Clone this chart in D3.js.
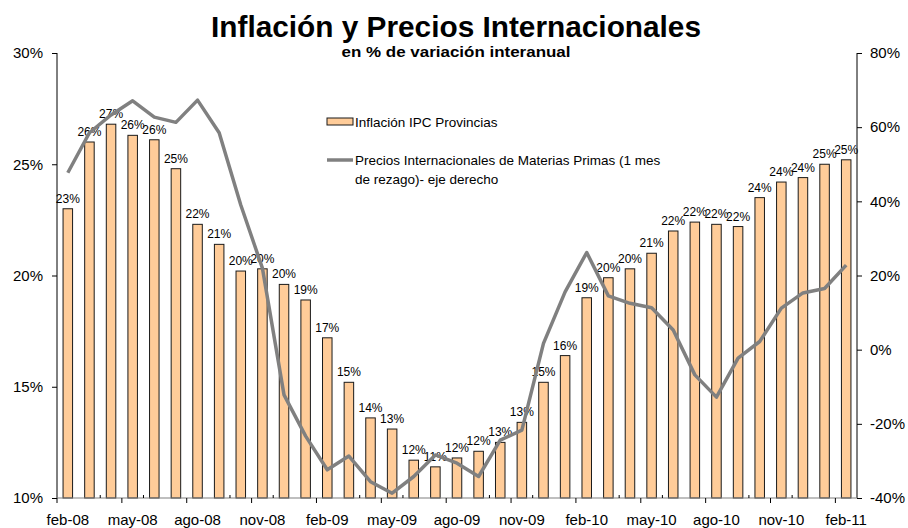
<!DOCTYPE html>
<html>
<head>
<meta charset="utf-8">
<script src="https://cdn.jsdelivr.net/npm/d3@7/dist/d3.min.js"></script>
<style>
  body { margin: 0; background: #fff; }
  svg { display: block; font-family: "Liberation Sans", Arial, sans-serif; }
</style>
</head>
<body>
<svg width="908" height="528"></svg>
<script>
/* global d3 */

const months = [
  'feb-08', 'mar-08', 'abr-08', 'may-08', 'jun-08', 'jul-08', 'ago-08', 'sep-08', 'oct-08', 'nov-08', 'dic-08', 'ene-09',
  'feb-09', 'mar-09', 'abr-09', 'may-09', 'jun-09', 'jul-09', 'ago-09', 'sep-09', 'oct-09', 'nov-09', 'dic-09', 'ene-10',
  'feb-10', 'mar-10', 'abr-10', 'may-10', 'jun-10', 'jul-10', 'ago-10', 'sep-10', 'oct-10', 'nov-10', 'dic-10', 'ene-11',
  'feb-11'
];

// Inflación IPC Provincias (eje izquierdo, %)
const inflacion = [
  23.0, 26.0, 26.8, 26.3, 26.1, 24.8, 22.3, 21.4, 20.2, 20.3, 19.6, 18.9,
  17.2, 15.2, 13.6, 13.1, 11.7, 11.4, 11.8, 12.1, 12.5, 13.4, 15.2, 16.4,
  19.0, 19.9, 20.3, 21.0, 22.0, 22.4, 22.3, 22.2, 23.5, 24.2, 24.4, 25.0,
  25.2
];

// Precios internacionales de materias primas (eje derecho, %)
const precios = [
  47.7, 58.5, 63.3, 67.1, 62.7, 61.3, 67.3, 58.5, 39.0, 22.0, -12.2, -23.3,
  -32.4, -28.7, -35.6, -38.7, -34.2, -28.4, -30.6, -34.2, -24.4, -21.7, 1.7, 15.6,
  26.2, 14.5, 12.5, 11.3, 5.3, -6.8, -12.8, -2.3, 2.2, 11.2, 15.3, 16.5,
  22.8
];

const leftTicks = [10, 15, 20, 25, 30];
const rightTicks = [-40, -20, 0, 20, 40, 60, 80];

const margin = { top: 53, right: 51, bottom: 30, left: 57 };
const width = 908 - margin.left - margin.right;
const height = 528 - margin.top - margin.bottom;

const svg = d3.select('svg');
const g = svg.append('g')
  .attr('transform', `translate(${margin.left},${margin.top})`);

const x = d3.scaleBand()
  .domain(months)
  .range([0, width])
  .paddingInner(0.56)
  .paddingOuter(0.28);

const yL = d3.scaleLinear().domain([10, 30]).range([height, 0]);
const yR = d3.scaleLinear().domain([-40, 80]).range([height, 0]);
const step = x.step();

// bars
g.append('g').selectAll('rect')
  .data(inflacion)
  .join('rect')
    .attr('x', (d, i) => x(months[i]))
    .attr('y', d => yL(d))
    .attr('width', x.bandwidth())
    .attr('height', d => height - yL(d))
    .attr('fill', '#ffcc99')
    .attr('stroke', '#1a1a1a')
    .attr('stroke-width', 1);

// bar labels
g.append('g').selectAll('text')
  .data(inflacion)
  .join('text')
    .attr('x', (d, i) => x(months[i]) + x.bandwidth() / 2)
    .attr('y', d => yL(d) - 6)
    .attr('text-anchor', 'middle')
    .attr('font-size', 12)
    .attr('fill', '#000')
    .text(d => `${Math.round(d)}%`);

// line
const line = d3.line()
  .x((d, i) => x(months[i]) + x.bandwidth() / 2)
  .y(d => yR(d));

g.append('path')
  .datum(precios)
  .attr('d', line)
  .attr('fill', 'none')
  .attr('stroke', '#808080')
  .attr('stroke-width', 3.5)
  .attr('stroke-linejoin', 'round');

// left axis
const axL = g.append('g')
  .call(d3.axisLeft(yL).tickValues(leftTicks).tickSize(5).tickPadding(9).tickFormat(d => `${d}%`));
axL.selectAll('text').attr('font-size', 15).attr('font-family', null).attr('fill', '#000');
axL.select('.domain').attr('d', `M0,${height}V0`).attr('stroke', '#000');

// right axis
const axR = g.append('g')
  .attr('transform', `translate(${width},0)`)
  .call(d3.axisRight(yR).tickValues(rightTicks).tickSize(5).tickPadding(8).tickFormat(d => `${d}%`));
axR.selectAll('text').attr('font-size', 15).attr('font-family', null).attr('fill', '#000');
axR.select('.domain').attr('d', `M0,${height}V0`).attr('stroke', '#000');

// x axis
const xAxis = g.append('g').attr('transform', `translate(0,${height})`);
xAxis.append('line')
  .attr('x1', 0).attr('x2', width)
  .attr('stroke', '#808080').attr('stroke-width', 1.2);

const majors = d3.range(0, months.length, 3);
xAxis.selectAll('.major')
  .data(majors)
  .join('line')
    .attr('class', 'major')
    .attr('x1', i => i * step).attr('x2', i => i * step)
    .attr('y1', 0).attr('y2', 5)
    .attr('stroke', '#000');

const minors = d3.range(2, months.length, 2).filter(i => i % 3 !== 0);
xAxis.selectAll('.minor')
  .data(minors)
  .join('line')
    .attr('class', 'minor')
    .attr('x1', i => i * step).attr('x2', i => i * step)
    .attr('y1', 0).attr('y2', -3)
    .attr('stroke', '#000');

xAxis.selectAll('text')
  .data(majors)
  .join('text')
    .attr('x', i => x(months[i]) + x.bandwidth() / 2)
    .attr('y', 27)
    .attr('text-anchor', 'middle')
    .attr('font-size', 15)
    .text(i => months[i]);

// titles
svg.append('text')
  .attr('x', 456).attr('y', 37)
  .attr('text-anchor', 'middle')
  .attr('font-size', 30).attr('font-weight', 'bold')
  .attr('textLength', 490).attr('lengthAdjust', 'spacingAndGlyphs')
  .text('Inflación y Precios Internacionales');

svg.append('text')
  .attr('x', 456).attr('y', 57)
  .attr('text-anchor', 'middle')
  .attr('font-size', 14).attr('font-weight', 'bold')
  .attr('textLength', 229).attr('lengthAdjust', 'spacingAndGlyphs')
  .text('en % de variación interanual');

// legend
const legend = svg.append('g').attr('font-size', 13.5);
legend.append('rect')
  .attr('x', 327).attr('y', 118).attr('width', 26).attr('height', 7)
  .attr('fill', '#ffcc99').attr('stroke', '#1a1a1a').attr('stroke-width', 1);
legend.append('text')
  .attr('x', 355).attr('y', 127)
  .text('Inflación IPC Provincias');

legend.append('line')
  .attr('x1', 327).attr('x2', 353).attr('y1', 160).attr('y2', 160)
  .attr('stroke', '#808080').attr('stroke-width', 3.5);
legend.append('text')
  .attr('x', 355).attr('y', 165)
  .text('Precios Internacionales de Materias Primas (1 mes');
legend.append('text')
  .attr('x', 355).attr('y', 184)
  .text('de rezago)- eje derecho');
</script>
</body>
</html>
